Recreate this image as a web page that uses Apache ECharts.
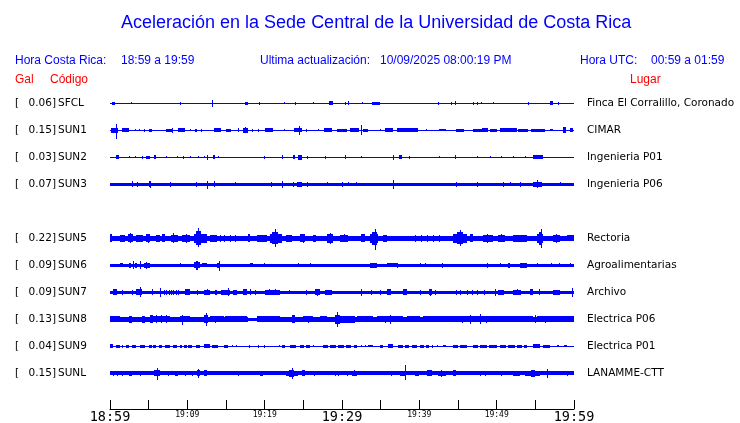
<!DOCTYPE html>
<html><head><meta charset="utf-8">
<script src="https://cdn.jsdelivr.net/npm/echarts@6/dist/echarts.min.js"></script>
<style>html,body{margin:0;padding:0;background:#fff}#c{width:740px;height:423px}</style>
</head><body><div id="c"></div>
<script>
// ---- data ----
const titleText = 'Aceleración en la Sede Central de la Universidad de Costa Rica';
const stationCodes = ['SFCL','SUN1','SUN2','SUN3','SUN5','SUN6','SUN7','SUN8','SUN9','SUNL'];
const stationGal = ['0.06','0.15','0.03','0.07','0.22','0.09','0.09','0.13','0.04','0.15'];
const stationPlaces = ['Finca El Corralillo, Coronado','CIMAR','Ingenieria P01','Ingenieria P06','Rectoria','Agroalimentarias','Archivo','Electrica P06','Electrica P01','LANAMME-CTT'];
const tickLabels = ['18:59','19:09','19:19','19:29','19:39','19:49','19:59'];
// background trace half-thickness (px of the plot) per station
const baseAmp = [0.5,0.5,0.5,1.5,2.5,1.5,1.5,1.5,0.5,1.7];
// bursts: [startMinute, endMinute, halfAmpUp, halfAmpDown?]
const evSFCL = [[0.2,0.6,1.5],[2.7,2.7,1],[9.1,9.1,1.5],[13.2,13.2,3.5],[17.5,17.8,1.5],[19.3,19.3,1.5],[22.5,22.5,1],[23.9,23.9,1.5],[26.2,26.2,1],[28.3,28.8,2],[30.4,30.4,1.5],[30.8,30.8,2],[32.6,32.6,1],[33.9,34.9,1.5],[42.4,42.4,1.5],[44.1,44.1,1.5],[44.6,44.6,2],[46.9,46.9,1.5],[47.4,47.4,1.5],[48,48,1],[49.5,49.5,1],[54.1,54.1,1.5],[56.9,57.3,2],[57.9,57.9,1.5]];
const evSUN1 = [[0.1,1.0,2.5],[0.8,0.8,6,8.5],[1.6,2.4,2],[3.2,3.2,1],[3.8,3.8,1],[4.4,4.4,1.5],[5.0,5.4,1.5],[7.2,8.2,1.5],[8.0,8.0,2.5],[8.8,9.7,2],[10.3,10.3,1],[11.0,11.2,1.5],[11.8,11.8,1.5],[13.4,14.3,2],[15.0,15.7,1.5],[16.5,16.7,2],[17.2,17.9,2.5],[17.5,17.6,3],[18.3,18.3,1.5],[19.2,19.2,1.5],[20.1,21.1,2],[22.5,22.5,1],[23.8,24.8,2],[24.4,24.4,4.5],[25.4,25.4,1.5],[26.9,26.9,1],[27.7,28.7,2],[29.4,30.6,1.5],[31.0,32.2,2],[32.5,32.5,5],[32.7,33.4,1.5],[34.9,34.9,1],[35.6,36.6,2],[37.1,39.8,2],[40.9,40.9,1],[42.6,43.5,1],[44.8,45.8,1.5],[46.9,48.5,1.5],[48.1,48.9,2],[49.2,50.1,1.5],[50.4,52.6,2],[52.8,54.1,1.5],[54.5,56.3,1.5],[56.9,57.3,1],[58.6,59.0,3],[59.5,59.9,2]];
const evSUN2 = [[0.8,1.2,2],[2.4,2.4,1],[3.2,3.2,1],[4.2,4.2,1.5],[4.7,5.2,1.5],[5.7,6.0,2],[7.3,7.3,1],[8.7,8.7,1],[9.4,9.4,1.5],[10.3,10.3,1],[11.4,11.4,1],[12.2,12.2,1],[12.5,12.5,2.5],[13.3,13.6,2],[14.0,14.0,1],[19.9,19.9,1.5],[22.3,22.3,2],[23.6,23.9,2],[24.3,24.8,2.5],[25.5,25.5,1.5],[27.8,27.8,1.5],[30.4,30.4,2],[32.5,32.5,1],[36.6,36.6,2.5],[37.4,37.7,2],[38.7,38.7,1.5],[42.6,42.6,1],[44.6,44.8,2],[47.4,47.4,1],[49.1,49.1,1],[50.6,50.6,1],[52.1,52.1,1],[53.7,53.7,1],[54.7,56.0,2]];
const evSUN3 = [[2.8,2.8,3],[3.5,3.5,2.5],[5.1,5.3,3],[5.2,5.2,3.5],[7.7,7.7,2.5],[11.1,11.1,2.5],[12.5,12.5,3.5,4.5],[13.4,13.4,3],[16.2,16.2,2],[20.8,20.8,2.5],[22.3,22.3,3.5,4],[23.6,23.6,2.5],[24.2,24.8,2.5],[25.5,25.5,2.5],[28,28,2],[30,30,2.5],[30.8,30.8,2],[31.8,31.8,2],[36.6,36.6,4.5],[44.7,44.7,2.5],[47.4,47.4,2.5],[50.8,51,2.5],[51.7,51.7,2],[53,53.2,2.5],[54.7,55.8,2.5],[55.2,55.2,4],[58.2,58.2,2]];
const evSUN5 = [[0,0.2,4],[1.3,1.9,3.5],[2.3,3.0,4],[2.6,2.6,5],[3.4,4.3,3.5],[4.7,5.2,4],[4.9,4.9,4.5],[6.0,6.5,3.5],[6.7,7.1,4],[7.9,8.8,3.5],[8.2,8.2,5],[9.3,10.3,3.5],[9.8,9.8,4.5],[10.9,12.5,4.5],[11.1,11.8,7],[11.4,11.4,10.5,9],[12.9,13.8,3.5],[14.2,14.2,3.5],[14.8,14.8,3.5],[15.5,15.5,3.5],[16.1,16.1,3.5],[17.8,18.1,4],[19.0,20.3,3.5],[20.7,22.2,4.5],[21.0,21.7,6],[21.3,21.3,9],[22.8,23.5,3.5],[24.6,25.2,4],[24.9,24.9,4.5],[26.3,26.7,3.5],[28.0,28.9,4.5],[28.4,28.4,5.5],[29.7,30.8,3.5],[30.2,30.2,4],[32.5,33.0,4],[33.6,34.6,4.5],[33.9,34.5,6.5],[34.3,34.3,9.5,12],[35.3,35.8,3.5],[39.4,39.4,3.5],[40.2,40.2,3.5],[41.0,41.0,3.5],[41.8,41.8,3.5],[42.5,42.5,3.5],[44.4,46.1,4.5],[44.9,45.7,6],[45.2,45.3,8],[46.5,46.9,4],[48.2,49.5,3.5],[48.8,48.8,4.5],[50.2,51.1,3.5],[50.6,50.6,4],[52.1,53.9,3.5],[55.2,56.0,4.5],[55.5,55.9,6.5],[55.7,55.7,9.5],[57.3,58.2,3.5],[57.7,57.7,4.5],[59.1,60,3]];
const evSUN6 = [[1.3,1.7,2],[2.5,2.7,2.5],[3.0,3.0,4],[3.2,3.5,2.5],[3.9,3.9,4],[4.4,5.2,2.5],[4.6,4.6,3.5],[9,9,2],[10.9,11.6,3],[11.1,11.4,4.5],[11.9,12.5,2],[13.8,13.8,2.5],[14.0,14.2,2.5],[14.1,14.1,4,5.5],[18.1,18.5,2],[19.9,19.9,2],[24.3,24.3,2],[25.8,25.8,2],[33.6,34.5,2.5],[35.8,37.1,2],[37.1,37.1,2.5],[40.1,40.1,2],[40.7,40.7,2],[42.9,43.1,2.5],[48.7,48.7,2.5],[50.4,50.4,2],[51.5,51.7,2.5],[53.0,53.9,2.5],[55.2,55.2,2],[57,57,2],[58,58,2],[59.5,59.5,2]];
const evSUN7 = [[0.4,0.9,3],[1.6,1.6,2.5],[2.8,3.0,2.5],[3.4,4.1,3],[3.9,3.9,5],[5.4,5.6,3],[6.5,6.5,4.5],[7.0,7.0,2.5],[7.3,7.3,2.5],[7.6,7.6,2.5],[7.9,7.9,2.5],[8.2,8.2,2.5],[8.5,8.5,2.5],[8.8,8.8,2.5],[9.7,10.3,3],[11.2,11.2,2.5],[12.1,12.9,2.5],[12.5,12.5,3],[13.6,13.8,2.5],[14.4,15.5,2.5],[15.2,15.2,4],[15.9,16.4,2.5],[17.2,17.7,3],[18.1,18.1,3],[18.8,18.8,2.5],[20.0,22.0,2.5],[20.6,20.6,3],[21.4,21.4,3],[23.1,23.1,2],[25.4,25.4,2.5],[26.5,27.2,3],[26.8,26.8,3.5],[27.8,28.7,2.5],[32.5,32.5,3.5],[33.8,33.8,2.5],[34.9,34.9,2.5],[35.8,36.4,3],[37.9,38.4,3],[40.1,40.1,2.5],[41.2,41.6,3],[41.4,41.4,3.5],[42,42,2.5],[44.8,44.8,2.5],[45.3,45.3,2.5],[46.1,46.1,2.5],[46.8,46.8,2.5],[47.4,47.4,2.5],[48.3,48.3,2.5],[49.8,49.8,3.5],[50.2,50.9,2.5],[52.1,53.2,2.5],[52.6,52.6,3],[54.3,54.7,3],[55.5,55.5,3],[57.3,58.2,2.5],[59.7,59.9,4.5]];
const evSUN8 = [[0,17.9,2.5],[19.0,60,2.5],[0,1.3,3],[2.4,2.8,3.5],[4.1,4.5,3.5],[5.2,5.6,4],[5.6,7.8,3],[6.0,6.0,4],[6.6,6.6,4],[7.3,7.3,4],[9.0,10.4,3],[9.3,9.3,4,5.5],[12.1,12.7,4],[12.4,12.4,6.5],[12.9,14.7,3],[13.6,13.6,3.5],[14.9,17.7,3],[19.0,22.0,3],[23.5,23.9,4],[25.0,26.3,3],[25.6,25.6,3.5],[27.2,28.0,3],[29.1,29.7,4.5],[29.4,29.4,7.5],[29.7,31.7,3.5],[31.9,34.0,2.8],[34.5,37.9,3],[35.5,35.5,3.5],[36.2,36.2,4.5],[38.4,40.1,3],[40.5,44.4,3],[44.4,49.6,3],[45.5,45.5,3.5],[46.5,46.5,4.5],[47.8,47.8,5],[48.6,48.6,3.5],[49.6,54.7,3],[55.0,55.0,4],[55.2,57.3,3],[56.2,56.2,3.5],[57.3,60,3]];
const evSUN9 = [[0,0.4,2],[0.8,1.3,1.5],[1.6,1.6,1.5],[2.1,2.5,1.5],[2.8,3.4,1.5],[3.9,4.5,1.5],[5.0,5.4,1.5],[5.6,6.0,1.5],[6.3,6.7,1.5],[7.1,7.8,1.5],[8.2,8.7,1.5],[9.0,9.3,1.5],[9.6,9.9,1.5],[10.1,10.6,1.5],[11.1,11.6,1.5],[12.1,12.9,2],[13.2,14.0,1.5],[14.7,15.3,1.5],[15.8,15.8,1],[16.3,16.3,1],[18,18,1.5],[19.1,19.1,1.5],[19.9,19.9,1.5],[21.8,21.8,1],[22.3,22.6,1.5],[23.3,24.1,1.5],[24.6,25.1,1.5],[25.4,25.9,1.5],[26.3,26.3,1],[27.6,28.2,1.5],[28.5,29.2,1.5],[29.5,30.2,1.5],[30.5,31.2,1.5],[31.5,31.9,1.5],[32.4,32.4,1],[33.0,33.0,1],[33.4,34.0,1],[34.9,35.3,1.5],[36.0,36.6,2],[37.3,37.9,1.5],[38.2,38.7,1.5],[39.0,39.7,1.5],[40.1,40.6,1.5],[40.9,41.3,1.5],[41.6,41.8,1.5],[42.3,42.3,1],[43.0,43.5,1],[44.4,45.0,1.5],[45.3,46.1,1.5],[47.0,47.6,1.5],[47.9,48.7,1.5],[49.0,50.0,1.5],[50.4,51.2,1.5],[51.5,52.4,1.5],[52.6,53.3,1.5],[53.5,53.9,1.5],[54.7,55.6,2],[56.0,56.9,1.5],[57.8,58.1,1],[58.7,59.1,1]];
const evSUNL = [[0.4,0.4,2.5],[0.9,0.9,2.5],[1.6,1.6,2.5],[2.4,2.8,2.5],[3.9,3.9,2.5],[5.7,6.5,3],[6.1,6.1,5.5,6.5],[7.5,7.5,2.5],[8.4,8.8,2.5],[9.7,9.7,2.5],[10.6,10.6,2.5],[11.2,11.6,3],[11.4,11.4,4.5],[12.1,12.5,3],[14.6,14.6,2],[16.6,16.6,2.5],[19.4,19.8,2.5],[22.8,24.3,2.5],[23.2,23.8,3.5],[23.5,23.5,5.5],[24.8,25.2,3],[26.4,26.4,2.5],[29.1,29.1,2.5],[29.5,29.5,2.5],[30.6,30.8,2.5],[31.3,31.9,2.5],[31.6,31.6,3],[34.5,34.5,2],[36.4,36.4,2.5],[37.5,38.2,2.5],[38.1,38.1,8,6.5],[39.4,39.9,2.5],[41.0,41.6,3],[42.4,43.5,2.5],[42.8,42.8,3.5],[44.4,44.8,3],[47.8,47.8,2.5],[48.5,48.5,2.5],[50.6,50.6,2.5],[52.1,53.0,2.5],[53.7,55.6,2.5],[54.5,54.9,3.5],[56.5,56.7,4.5],[59.1,59.1,2.5]];
const stationEvents = [evSFCL, evSUN1, evSUN2, evSUN3, evSUN5, evSUN6, evSUN7, evSUN8, evSUN9, evSUNL];

// ---- layout ----
const slotOf = [0,1,2,3,5,6,7,8,9,10]; // SUN4 slot left empty
const ROW0 = 13, ROWSTEP = 27;
const BLUE = '#0000ff';
const chart = echarts.init(document.getElementById('c'), null, {renderer:'canvas'});

function makeSeries(i){
  const row = ROW0 + slotOf[i]*ROWSTEP;
  const data = [[0, 60, baseAmp[i], baseAmp[i], 1]].concat(
    stationEvents[i].map(e => [e[0], e[1], e[2], e.length > 3 ? e[3] : e[2], 0]));
  return {
    type: 'custom', name: stationCodes[i], silent: true, animation: false,
    coordinateSystem: 'cartesian2d', clip: false,
    encode: {x: [0, 1], y: 2},
    data: data,
    renderItem: function(params, api){
      const t0 = api.value(0), t1 = api.value(1), up = api.value(2), dn = api.value(3), isBase = api.value(4);
      const pA = api.coord([t0, row - up]);
      const pB = api.coord([t1, row + dn]);
      const x0 = Math.round(pA[0]);
      const x1 = Math.max(x0 + 1, Math.round(pB[0]));
      const top = Math.round(pA[1]);
      const bot = Math.max(top + 1, Math.round(pB[1]));
      const rect = {type: 'rect', shape: {x: x0, y: top, width: x1 - x0, height: bot - top}, style: {fill: BLUE}};
      if (!isBase) return rect;
      const cy = api.coord([0, row])[1] + 0.5;
      const font = '10.5px "DejaVu Sans"';
      const mk = (txt, x, al) => ({type: 'text', style: {text: txt, x: x, y: cy, fill: '#000', font: font,
        align: al, verticalAlign: 'middle', textAlign: al, textVerticalAlign: 'middle'}});
      return {type: 'group', children: [
        rect,
        mk('[', 15, 'left'),
        mk(stationGal[i] + ']', 56, 'right'),
        mk(stationCodes[i], 58, 'left'),
        mk(stationPlaces[i], 587, 'left')
      ]};
    }
  };
}

const hdrFont = '12px "Liberation Sans"';
function txt(t, x, y, color, font, al){
  return {type: 'text', x: x, y: y, silent: true,
    style: {text: t, fill: color, font: font, textAlign: al || 'left', textVerticalAlign: 'middle', align: al || 'left', verticalAlign: 'middle'}};
}

chart.setOption({
  animation: false,
  backgroundColor: '#fff',
  grid: {left: 110, right: 166, top: 90, bottom: 14, outerBoundsMode: 'none', containLabel: false},
  xAxis: {
    type: 'value', min: 0, max: 60, interval: 5, position: 'bottom',
    axisLine: {show: true, onZero: false, lineStyle: {color: '#000', width: 1}},
    axisTick: {show: true, inside: true, length: 9, lineStyle: {color: '#000', width: 1}},
    splitLine: {show: false},
    axisLabel: {
      show: true, margin: 1, showMinLabel: true, showMaxLabel: true, hideOverlap: false,
      formatter: function(v){
        if (v % 10 !== 0) return '';
        const s = tickLabels[v / 10];
        return v % 30 === 0 ? '{b|' + s + '}' : '{s|' + s + '}';
      },
      rich: {
        b: {fontFamily: 'DejaVu Sans Mono', fontSize: 13.5, color: '#000', lineHeight: 14},
        s: {fontFamily: 'DejaVu Sans Mono', fontSize: 8, color: '#000', lineHeight: 10}
      }
    }
  },
  yAxis: {type: 'value', min: 0, max: 319, inverse: true, show: false},
  graphic: {elements: [
    txt(titleText, 121, 23, BLUE, '18px "Liberation Sans"'),
    txt('Hora Costa Rica:', 15, 61, BLUE, hdrFont),
    txt('18:59 a 19:59', 121, 61, BLUE, hdrFont),
    txt('Ultima actualización:', 260, 61, BLUE, hdrFont),
    txt('10/09/2025 08:00:19 PM', 380, 61, BLUE, hdrFont),
    txt('Hora UTC:', 580, 61, BLUE, hdrFont),
    txt('00:59 a 01:59', 651, 61, BLUE, hdrFont),
    txt('Gal', 15, 80, '#ff0000', hdrFont),
    txt('Código', 50, 80, '#ff0000', hdrFont),
    txt('Lugar', 630, 80, '#ff0000', hdrFont)
  ]},
  series: stationCodes.map((c, i) => makeSeries(i))
});
</script></body></html>
